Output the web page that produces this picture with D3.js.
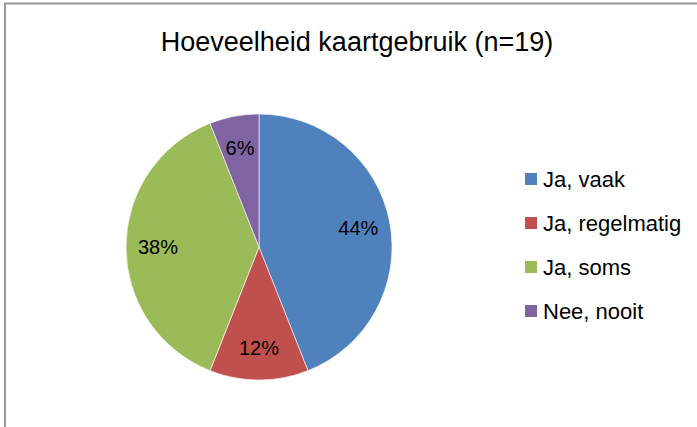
<!DOCTYPE html>
<html>
<head>
<meta charset="utf-8">
<script src="https://cdn.jsdelivr.net/npm/d3@7"></script>
<style>
  html, body { margin: 0; padding: 0; background: #fff; }
  svg { display: block; }
  text { font-family: "Liberation Sans", Arial, sans-serif; fill: #000; }
</style>
</head>
<body>
<svg id="chart" width="697" height="427"></svg>
<script>
// Survey: how often a map is used (n=19)
const title = "Hoeveelheid kaartgebruik (n=19)";
const categories = ["Ja, vaak", "Ja, regelmatig", "Ja, soms", "Nee, nooit"];
const percentages = [44, 12, 38, 6];
const colors = ["#4F81BD", "#C0504D", "#9BBB59", "#8064A2"];

const W = 697, H = 427;
const svg = d3.select("#chart");

// chart frame (its right and bottom edges run past the visible area)
svg.append("rect")
  .attr("x", 5).attr("y", 3.5)
  .attr("width", W + 10).attr("height", H + 10)
  .attr("fill", "#fff")
  .attr("stroke", "#979797")
  .attr("stroke-width", 2);

svg.append("text")
  .attr("x", 357).attr("y", 51)
  .attr("text-anchor", "middle")
  .style("font-size", "27px")
  .text(title);

const data = categories.map((c, i) => ({ cat: c, value: percentages[i] }));

const color = d3.scaleOrdinal().domain(categories).range(colors);

const cx = 259, cy = 247, r = 133;
const pie = d3.pie().value(d => d.value).sort(null);
const arcs = pie(data);
const arc = d3.arc().innerRadius(0).outerRadius(r);
const labelArc = d3.arc().innerRadius(r * 0.76).outerRadius(r * 0.76);

const g = svg.append("g").attr("transform", `translate(${cx},${cy})`);

g.selectAll("path.slice")
  .data(arcs)
  .join("path")
  .attr("class", "slice")
  .attr("d", arc)
  .attr("fill", d => color(d.data.cat))
  .attr("stroke", "#ffffff")
  .attr("stroke-width", 0.6);

g.selectAll("text.pct")
  .data(arcs)
  .join("text")
  .attr("class", "pct")
  .attr("transform", d => `translate(${labelArc.centroid(d)})`)
  .attr("text-anchor", "middle")
  .attr("dy", "0.35em")
  .style("font-size", "20px")
  .text(d => d.data.value + "%");

// legend
const ly = d3.scalePoint().domain(categories).range([179, 311]);
const legend = svg.append("g");
const items = legend.selectAll("g")
  .data(categories)
  .join("g")
  .attr("transform", d => `translate(525,${ly(d)})`);

items.append("rect")
  .attr("x", 0).attr("y", -6)
  .attr("width", 12).attr("height", 12)
  .attr("fill", d => color(d));

items.append("text")
  .attr("x", 18).attr("y", 0)
  .attr("dy", "0.35em")
  .style("font-size", "22px")
  .text(d => d);
</script>
</body>
</html>
